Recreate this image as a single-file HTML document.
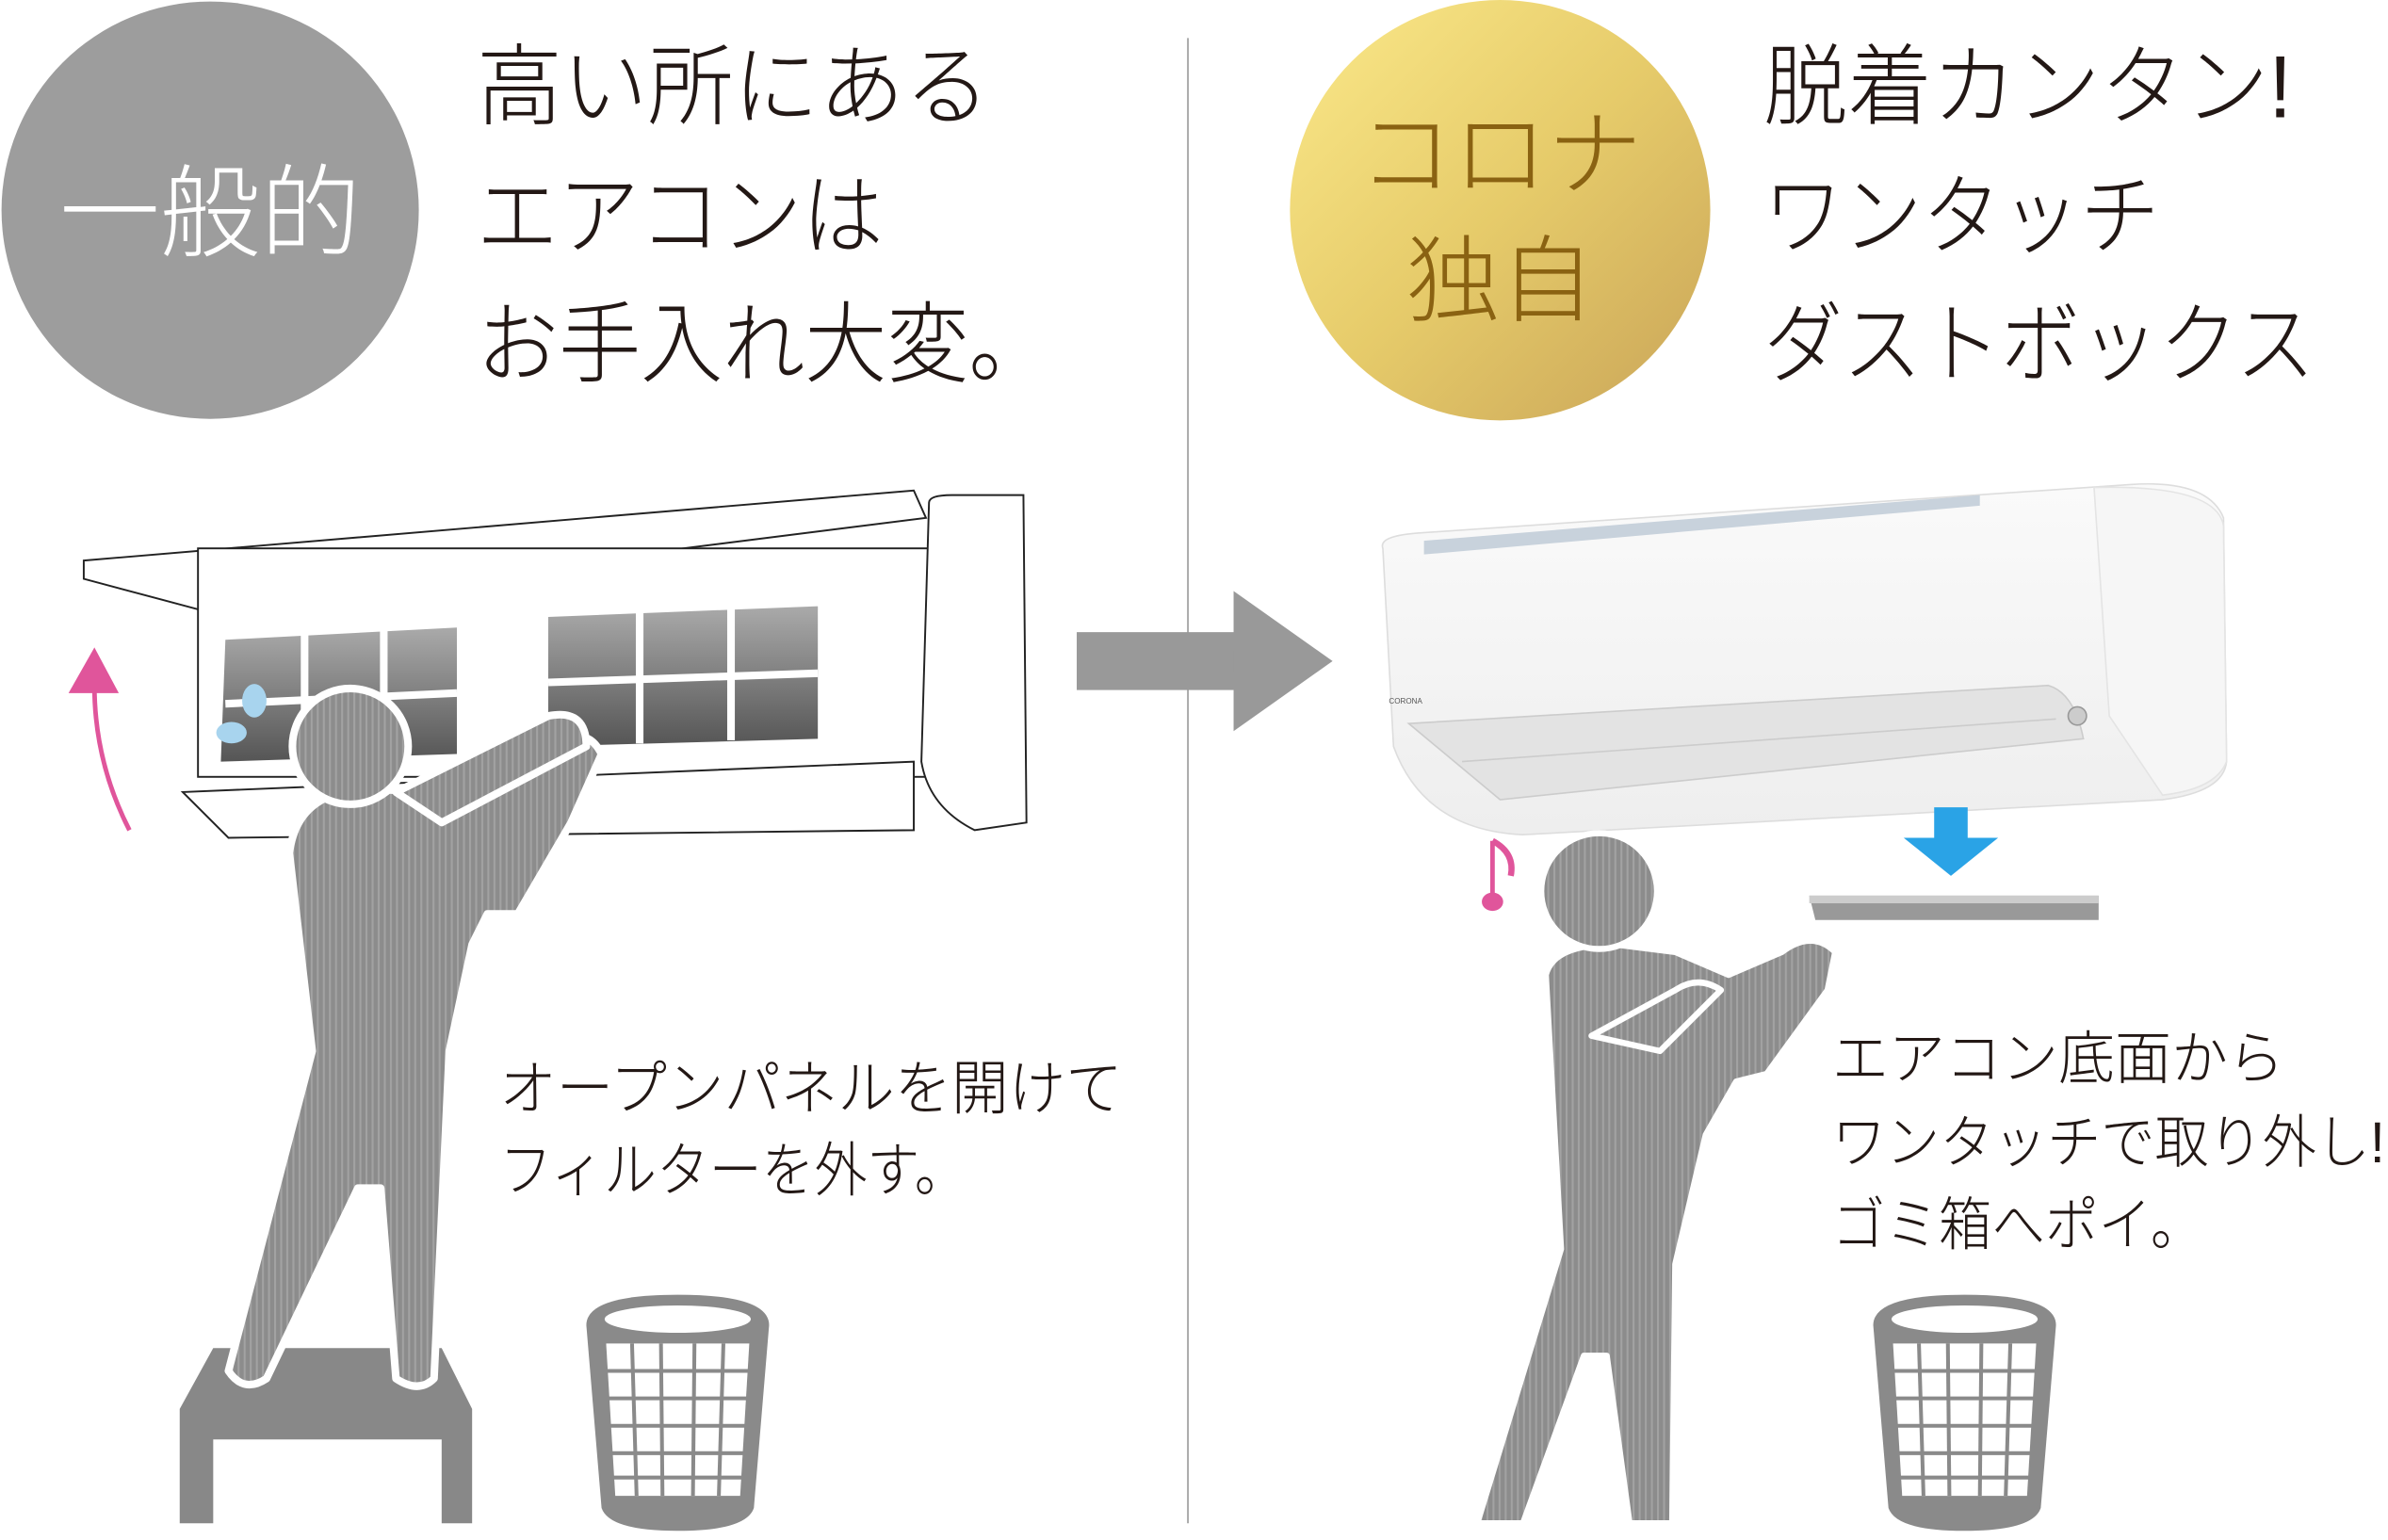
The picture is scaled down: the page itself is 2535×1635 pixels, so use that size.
<!DOCTYPE html>
<html><head><meta charset="utf-8"><style>
html,body{margin:0;padding:0;background:#fff;}
svg{display:block;}
text{font-family:"Liberation Sans","Noto Sans CJK JP",sans-serif;font-weight:300;}
</style></head><body>
<svg width="2535" height="1635" viewBox="0 0 1568 1011" preserveAspectRatio="none" xmlns="http://www.w3.org/2000/svg">
<defs>
<linearGradient id="gold" x1="0" y1="0" x2="1" y2="1">
<stop offset="0" stop-color="#fbe98a"/><stop offset="0.5" stop-color="#e6cb6a"/><stop offset="1" stop-color="#c9a458"/>
</linearGradient>
<pattern id="stripe" width="4" height="4" patternUnits="userSpaceOnUse">
<rect width="4" height="4" fill="#8c8c8c"/><rect width="1.3" height="4" fill="#a2a2a2"/>
</pattern>
<linearGradient id="filt" x1="0" y1="0" x2="0" y2="1">
<stop offset="0" stop-color="#aaa"/><stop offset="1" stop-color="#555"/>
</linearGradient>
<linearGradient id="acb" x1="0" y1="0" x2="0" y2="1">
<stop offset="0" stop-color="#fafafa"/><stop offset="1" stop-color="#eeeeee"/>
</linearGradient>
</defs>
<rect width="1568" height="1011" fill="#fff"/>
<line x1="780" y1="25" x2="780" y2="1000" stroke="#999" stroke-width="1"/>
<circle cx="138" cy="138" r="137" fill="#9d9d9d"/>
<text x="138" y="163" font-size="66" fill="#fff" text-anchor="middle">一般的</text>
<circle cx="985" cy="138" r="138" fill="url(#gold)"/>
<text x="985" y="123" font-size="62" fill="#8a6212" text-anchor="middle">コロナ</text>
<text x="985" y="206" font-size="62" fill="#8a6212" text-anchor="middle">独自</text>
<g font-size="58" fill="#231815" lengthAdjust="spacingAndGlyphs">
<text x="313" y="77" textLength="337" lengthAdjust="spacingAndGlyphs">高い所にある</text>
<text x="313" y="162" textLength="267" lengthAdjust="spacingAndGlyphs">エアコンは</text>
<text x="313" y="246" textLength="377" lengthAdjust="spacingAndGlyphs">お手入れ大変。</text>
<text x="1158" y="77" textLength="347" lengthAdjust="spacingAndGlyphs">脱着カンタン!</text>
<text x="1158" y="162" textLength="260" lengthAdjust="spacingAndGlyphs">ワンタッチ</text>
<text x="1158" y="246" textLength="362" lengthAdjust="spacingAndGlyphs">ダストボックス</text>
</g>
<rect x="707" y="415" width="104" height="38" fill="#999"/>
<polygon points="810,388 875,434 810,480" fill="#999"/>
<!-- left AC -->
<g fill="#fff" stroke="#222" stroke-width="1.2">
<polygon points="55,368 600,322 608,340 130,400 55,380"/>
<rect x="130" y="360" width="480" height="150"/>
<path d="M610,330 Q610,325 625,325 L672,325 L674,540 L640,545 Q610,530 605,500 Z"/>
<path d="M120,520 L600,500 L600,545 L150,550 Z"/>
</g>
<g fill="url(#filt)">
<path d="M148,420 L300,412 L300,495 L145,500 Z"/>
<path d="M360,405 L537,398 L537,485 L360,490 Z"/>
</g>
<g stroke="#fff" stroke-width="5">
<line x1="200" y1="415" x2="200" y2="500"/><line x1="252" y1="413" x2="252" y2="498"/>
<line x1="148" y1="462" x2="300" y2="455"/>
<line x1="420" y1="402" x2="420" y2="488"/><line x1="480" y1="400" x2="480" y2="486"/>
<line x1="360" y1="448" x2="537" y2="442"/>
</g>
<path d="M85,545 Q62,500 62,450" fill="none" stroke="#e0559b" stroke-width="3"/>
<polygon points="45,455 62,425 78,455" fill="#e0559b"/>
<ellipse cx="167" cy="460" rx="8" ry="11" fill="#a8d4ee"/>
<ellipse cx="152" cy="481" rx="10" ry="7" fill="#a8d4ee"/>
<polygon points="140,885 290,885 310,925 310,1000 290,1000 290,945 140,945 140,1000 118,1000 118,925" fill="#888"/>
<g fill="url(#stripe)" stroke="#fff" stroke-width="5" stroke-linejoin="round">
<path d="M190,560 Q195,520 240,518 L290,520 L345,500 L365,490 Q385,475 395,495 L375,540 L340,600 L320,600 L310,620 L295,690 L285,905 Q275,915 260,905 L250,780 L235,780 L175,905 Q160,915 150,900 L205,690 Z"/>
<path d="M260,520 L360,470 Q385,465 385,490 L290,540 Z"/>
<circle cx="230" cy="490" r="38"/>
</g>
<g font-size="39" fill="#231815">
<text x="328" y="728" textLength="409" lengthAdjust="spacingAndGlyphs">オープンパネルを開けて</text>
<text x="328" y="782" textLength="307" lengthAdjust="spacingAndGlyphs">フィルターを外す。</text>
</g>
<!-- bins -->
<g>
<path d="M385,870 Q385,850 445,850 Q505,850 505,870 L495,990 Q490,1005 445,1005 Q400,1005 395,990 Z" fill="#8a8a8a"/>
<ellipse cx="445" cy="866" rx="48" ry="9" fill="#fff"/>
<path d="M398,882 L492,882 L486,982 L404,982 Z" fill="#fff"/>
<g stroke="#8a8a8a" stroke-width="2.5">
<line x1="415" y1="882" x2="418" y2="982"/><line x1="434" y1="882" x2="435" y2="982"/><line x1="456" y1="882" x2="455" y2="982"/><line x1="475" y1="882" x2="472" y2="982"/>
<line x1="398" y1="900" x2="492" y2="900"/><line x1="399" y1="918" x2="491" y2="918"/><line x1="400" y1="936" x2="490" y2="936"/><line x1="401" y1="954" x2="489" y2="954"/><line x1="402" y1="970" x2="488" y2="970"/>
</g>
</g>
<g>
<path d="M1230,870 Q1230,850 1290,850 Q1350,850 1350,870 L1340,990 Q1335,1005 1290,1005 Q1245,1005 1240,990 Z" fill="#8a8a8a"/>
<ellipse cx="1290" cy="866" rx="48" ry="9" fill="#fff"/>
<path d="M1243,882 L1337,882 L1331,982 L1249,982 Z" fill="#fff"/>
<g stroke="#8a8a8a" stroke-width="2.5">
<line x1="1260" y1="882" x2="1263" y2="982"/><line x1="1279" y1="882" x2="1280" y2="982"/><line x1="1301" y1="882" x2="1300" y2="982"/><line x1="1320" y1="882" x2="1317" y2="982"/>
<line x1="1243" y1="900" x2="1337" y2="900"/><line x1="1244" y1="918" x2="1336" y2="918"/><line x1="1245" y1="936" x2="1335" y2="936"/><line x1="1246" y1="954" x2="1334" y2="954"/><line x1="1247" y1="970" x2="1333" y2="970"/>
</g>
</g>
<!-- right AC -->
<path d="M908,360 Q905,352 930,350 L1400,318 Q1450,315 1460,340 L1462,500 Q1460,520 1420,525 L1000,548 Q935,545 915,490 Z" fill="url(#acb)" stroke="#ddd" stroke-width="1"/>
<path d="M1375,320 Q1455,318 1460,345 L1462,500 Q1455,518 1420,522 L1385,470 Z" fill="#f6f6f6" stroke="#e4e4e4"/>
<path d="M925,475 L1345,450 Q1362,455 1368,485 L985,525 Z" fill="#e3e3e3" stroke="#ccc"/>
<path d="M960,500 L1350,472" stroke="#ccc"/>
<path d="M935,355 L1300,325 L1300,332 L935,364 Z" fill="#c8d2dc"/>
<text x="912" y="462" font-size="5" fill="#555">CORONA</text>
<circle cx="1364" cy="470" r="6" fill="#ccc" stroke="#999"/>
<rect x="1270" y="530" width="22" height="22" fill="#2aa3e6"/>
<polygon points="1250,550 1312,550 1281,575" fill="#2aa3e6"/>
<path d="M1188,588 L1378,588 L1378,604 L1192,604 Z" fill="#999"/>
<rect x="1188" y="588" width="190" height="5" fill="#ccc"/>
<path d="M980,552 L980,592" stroke="#e0559b" stroke-width="3"/>
<ellipse cx="980" cy="592" rx="7" ry="6" fill="#e0559b"/>
<path d="M980,552 Q995,560 992,575" fill="none" stroke="#e0559b" stroke-width="4"/>
<g fill="url(#stripe)" stroke="#fff" stroke-width="4" stroke-linejoin="round">
<path d="M1015,640 Q1020,620 1060,620 L1100,625 L1135,640 L1170,625 Q1190,610 1205,625 L1200,650 L1160,705 L1140,710 L1120,745 L1100,830 L1098,1000 L1070,1000 L1055,890 L1040,890 L1000,1000 L970,1000 L1025,820 Z"/>
<path d="M1045,680 L1100,650 Q1115,640 1130,650 L1090,690 Z"/>
<circle cx="1050" cy="585" r="38"/>
</g>
<g font-size="38" fill="#231815">
<text x="1203" y="708" textLength="297" lengthAdjust="spacingAndGlyphs">エアコン底面から</text>
<text x="1203" y="763" textLength="363" lengthAdjust="spacingAndGlyphs">ワンタッチで取り外し!</text>
<text x="1203" y="817" textLength="244" lengthAdjust="spacingAndGlyphs">ゴミ箱へポイ。</text>
</g>
</svg>
</body></html>
